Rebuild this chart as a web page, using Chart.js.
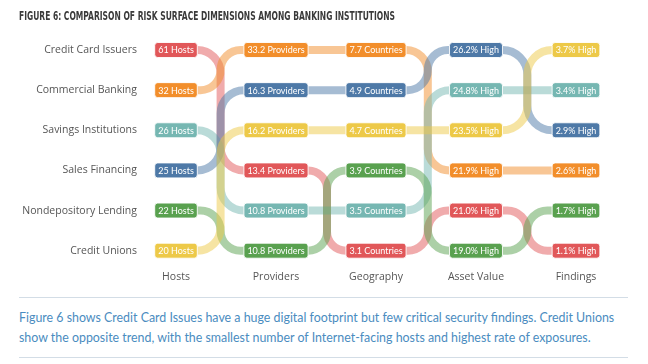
<!DOCTYPE html>
<html><head><meta charset="utf-8">
<script src="https://cdn.jsdelivr.net/npm/chart.js@4.4.1/dist/chart.umd.min.js"></script>
<style>
html,body{margin:0;padding:0;background:#fff;}
body{width:648px;height:364px;position:relative;overflow:hidden;}
#title{position:absolute;left:19px;top:8px;font:bold 12.5px "DejaVu Sans Condensed","Liberation Sans",sans-serif;color:#3a3a3a;white-space:nowrap;transform-origin:0 0;display:inline-block;}
#wrap{position:absolute;left:0;top:0;width:648px;height:296px;}
#cap{position:absolute;left:19px;top:297px;width:609px;height:61px;border-top:1px solid #d3dde6;border-bottom:1px solid #d3dde6;box-sizing:border-box;font:12.4px Lato,sans-serif;color:#4a8cc0;padding-top:10px;line-height:20px;white-space:nowrap;}
</style></head>
<body>
<div id="wrap"><canvas id="c" width="648" height="296"></canvas></div>
<div id="title">FIGURE 6: COMPARISON OF RISK SURFACE DIMENSIONS AMONG BANKING INSTITUTIONS</div>
<div id="cap">Figure 6 shows Credit Card Issues have a huge digital footprint but few critical security findings. Credit Unions<br>show the opposite trend, with the smallest number of Internet-facing hosts and highest rate of exposures.</div>
<script>
const institutions = ['Credit Card Issuers','Commercial Banking','Savings Institutions','Sales Financing','Nondepository Lending','Credit Unions'];
const dimensions = ['Hosts','Providers','Geography','Asset Value','Findings'];
const hosts = [61, 32, 26, 25, 22, 20];
const providers = [13.4, 33.2, 10.8, 16.3, 10.8, 16.2];
const geography = [3.1, 7.7, 3.5, 4.9, 3.9, 4.7];
const assetValue = [21.0, 21.9, 24.8, 26.2, 19.0, 23.5];
const findings = [1.1, 2.6, 3.4, 2.9, 1.7, 3.7];
const colors = ['#e15759','#f28e2b','#76b7b2','#4e79a7','#59a14f','#edc948'];

const columns = [hosts, providers, geography, assetValue, findings];
const formats = [
  v => v + ' Hosts',
  v => v.toFixed(1) + ' Providers',
  v => v.toFixed(1) + ' Countries',
  v => v.toFixed(1) + '% High',
  v => v.toFixed(1) + '% High'
];
function ranks(vals){
  return vals.map((v,i)=>1+vals.filter((w,j)=>w>v||(w===v&&j<i)).length);
}
const colRanks = columns.map(ranks);

// fit title to reference width
(function(){const t=document.getElementById('title');const w=t.getBoundingClientRect().width;t.style.transform='scaleX('+(376/w)+')';})();

const BOX_FONT = '9px Lato';
const BOX_H = 15, BOX_PAD = 3.5;
function boxWidths(ctx){
  ctx.save(); ctx.font = BOX_FONT;
  const w = columns.map((col,j)=>Math.max(...col.map(v=>ctx.measureText(formats[j](v)).width)) + 2*BOX_PAD);
  ctx.restore(); return w;
}
function hexA(h,a){const n=parseInt(h.slice(1),16);return `rgba(${n>>16},${(n>>8)&255},${n&255},${a})`;}

const connectors = {
  id:'connectors',
  beforeDatasetsDraw(chart){
    const ctx = chart.ctx; const bw = boxWidths(ctx);
    chart.data.datasets.forEach((ds,i)=>{
      const pts = chart.getDatasetMeta(i).data;
      ctx.save();
      ctx.strokeStyle = hexA(colors[i],0.5); ctx.lineWidth = 8; ctx.lineJoin='round';
      ctx.beginPath();
      for(let j=0;j<pts.length-1;j++){
        const p0=pts[j], p1=pts[j+1];
        const xa=p0.x+bw[j]/2, xb=p1.x-bw[j+1]/2, xm=(xa+xb)/2;
        const dy=p1.y-p0.y;
        ctx.moveTo(p0.x,p0.y);
        if(Math.abs(dy)<0.5){ ctx.lineTo(p1.x,p1.y); }
        else{
          const r=Math.min(Math.abs(dy)/2,(xb-xa)/2);
          ctx.lineTo(xa,p0.y);
          ctx.arcTo(xm,p0.y,xm,p1.y,r);
          ctx.arcTo(xm,p1.y,xb,p1.y,r);
          ctx.lineTo(p1.x,p1.y);
        }
      }
      ctx.stroke(); ctx.restore();
    });
  },
  afterDatasetsDraw(chart){
    const ctx = chart.ctx; const bw = boxWidths(ctx);
    chart.data.datasets.forEach((ds,i)=>{
      const pts = chart.getDatasetMeta(i).data;
      pts.forEach((p,j)=>{
        const w=bw[j], x=p.x-w/2, y=p.y-BOX_H/2;
        ctx.save();
        ctx.beginPath(); ctx.roundRect(x,y,w,BOX_H,3);
        ctx.fillStyle=colors[i]; ctx.fill();
        ctx.strokeStyle='rgba(255,255,255,0.9)'; ctx.lineWidth=1; ctx.stroke();
        ctx.fillStyle='#fff'; ctx.font=BOX_FONT; ctx.textAlign='center'; ctx.textBaseline='middle';
        ctx.fillText(formats[j](columns[j][i]), p.x, p.y+0.5);
        ctx.restore();
      });
    });
  }
};

new Chart(document.getElementById('c'), {
  type:'line',
  data:{
    labels: dimensions,
    datasets: institutions.map((name,i)=>({
      label:name,
      data: colRanks.map(r=>r[i]),
      borderColor: colors[i],
      backgroundColor: colors[i],
      showLine:false, pointRadius:0, pointHoverRadius:0, clip:false
    }))
  },
  options:{
    responsive:false, animation:false, devicePixelRatio:1,
    layout:{padding:{top:50,right:72,bottom:0,left:0}},
    plugins:{legend:{display:false},tooltip:{enabled:false},title:{display:false}},
    scales:{
      x:{
        offset:false,
        grid:{display:false,drawTicks:false}, border:{display:false},
        ticks:{font:{family:'Open Sans',size:10.5},color:'#555',padding:20},
        afterFit(s){ s.height = 40; }
      },
      y:{
        reverse:true, min:1, max:6,
        grid:{display:false,drawTicks:false}, border:{display:false},
        ticks:{stepSize:1,font:{family:'Open Sans',size:10.5},color:'#555',padding:39,
          callback:v=>{const i=colRanks[0].indexOf(v);return i>=0?institutions[i]:'';}},
        afterFit(s){ s.width = 176; }
      }
    }
  },
  plugins:[connectors]
});
</script>
</body></html>
